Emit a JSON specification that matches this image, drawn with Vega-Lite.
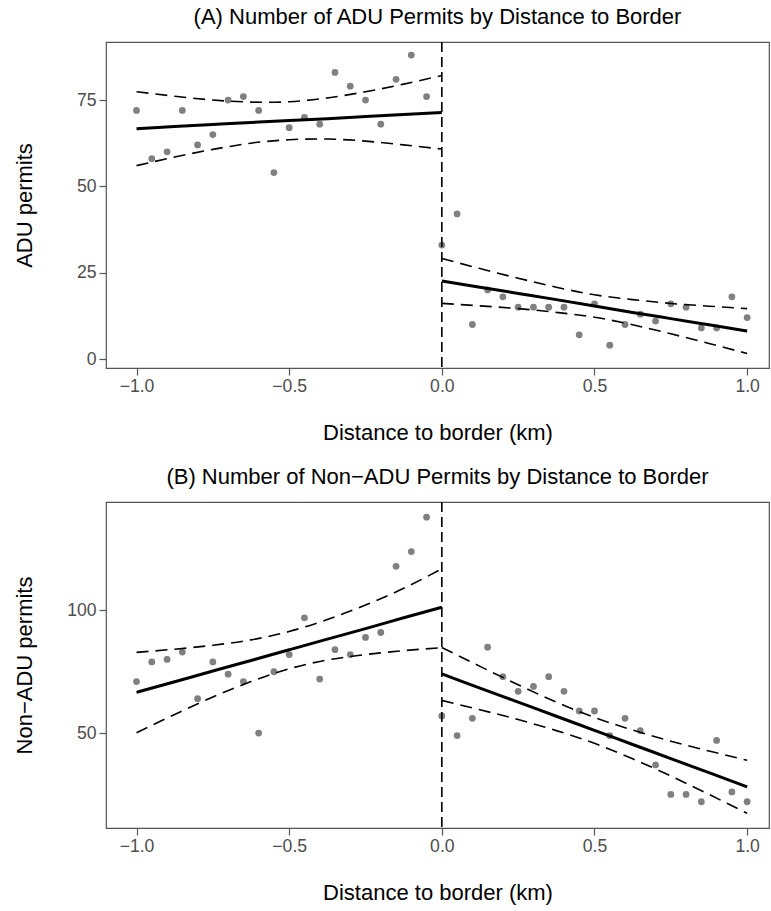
{
  "$schema": "https://vega.github.io/schema/vega-lite/v6.json",
  "padding": {"left": 12, "top": 5, "right": 0, "bottom": 0},
  "spacing": 20,
  "config": {
    "font": "Liberation Sans",
    "view": {"stroke": "#555555", "strokeWidth": 1.2},
    "axis": {"grid": false, "domain": false, "tickColor": "#555555", "tickSize": 7, "tickWidth": 1.2,
      "labelFontSize": 17.6, "labelColor": "#4D4D4D", "labelFont": "Liberation Sans",
      "titleFontSize": 22, "titleFontWeight": "normal", "titleColor": "black", "titleFont": "Liberation Sans"},
    "axisX": {"labelPadding": 2, "titlePadding": 28, "labelFlush": false},
    "axisY": {"labelPadding": 3, "titleX": -75, "titleY": 163, "titleBaseline": "alphabetic", "titleAngle": -90, "titleAlign": "center"},
    "title": {"fontSize": 22, "fontWeight": "normal", "anchor": "middle", "offset": 12, "color": "black", "font": "Liberation Sans"}
  },
  "datasets": {
    "ptsA": [
      {"x": -1.0, "permits": 72}, {"x": -0.95, "permits": 58}, {"x": -0.9, "permits": 60}, {"x": -0.85, "permits": 72},
      {"x": -0.8, "permits": 62}, {"x": -0.75, "permits": 65}, {"x": -0.7, "permits": 75}, {"x": -0.65, "permits": 76},
      {"x": -0.6, "permits": 72}, {"x": -0.55, "permits": 54}, {"x": -0.5, "permits": 67}, {"x": -0.45, "permits": 70},
      {"x": -0.4, "permits": 68}, {"x": -0.35, "permits": 83}, {"x": -0.3, "permits": 79}, {"x": -0.25, "permits": 75},
      {"x": -0.2, "permits": 68}, {"x": -0.15, "permits": 81}, {"x": -0.1, "permits": 88}, {"x": -0.05, "permits": 76},
      {"x": 0.0, "permits": 33}, {"x": 0.05, "permits": 42}, {"x": 0.1, "permits": 10}, {"x": 0.15, "permits": 20},
      {"x": 0.2, "permits": 18}, {"x": 0.25, "permits": 15}, {"x": 0.3, "permits": 15}, {"x": 0.35, "permits": 15},
      {"x": 0.4, "permits": 15}, {"x": 0.45, "permits": 7}, {"x": 0.5, "permits": 16}, {"x": 0.55, "permits": 4},
      {"x": 0.6, "permits": 10}, {"x": 0.65, "permits": 13}, {"x": 0.7, "permits": 11}, {"x": 0.75, "permits": 16},
      {"x": 0.8, "permits": 15}, {"x": 0.85, "permits": 9}, {"x": 0.9, "permits": 9}, {"x": 0.95, "permits": 18},
      {"x": 1.0, "permits": 12}
    ],
    "fitA": [
      {"side": "left", "x": -1.0, "fit": 66.7, "lo": 56.0, "hi": 77.4},
      {"side": "left", "x": -0.875, "fit": 67.3, "lo": 58.5, "hi": 76.1},
      {"side": "left", "x": -0.75, "fit": 67.9, "lo": 60.7, "hi": 75.0},
      {"side": "left", "x": -0.625, "fit": 68.5, "lo": 62.5, "hi": 74.4},
      {"side": "left", "x": -0.5, "fit": 69.05, "lo": 63.5, "hi": 74.5},
      {"side": "left", "x": -0.375, "fit": 69.6, "lo": 63.7, "hi": 75.6},
      {"side": "left", "x": -0.25, "fit": 70.2, "lo": 63.1, "hi": 77.4},
      {"side": "left", "x": -0.125, "fit": 70.8, "lo": 62.0, "hi": 79.6},
      {"side": "left", "x": 0.0, "fit": 71.4, "lo": 60.8, "hi": 82.1},
      {"side": "right", "x": 0.0, "fit": 22.6, "lo": 16.1, "hi": 29.1},
      {"side": "right", "x": 0.125, "fit": 20.8, "lo": 15.4, "hi": 26.2},
      {"side": "right", "x": 0.25, "fit": 19.0, "lo": 14.6, "hi": 23.4},
      {"side": "right", "x": 0.375, "fit": 17.2, "lo": 13.5, "hi": 20.8},
      {"side": "right", "x": 0.5, "fit": 15.35, "lo": 12.1, "hi": 18.6},
      {"side": "right", "x": 0.625, "fit": 13.5, "lo": 9.9, "hi": 17.2},
      {"side": "right", "x": 0.75, "fit": 11.7, "lo": 7.3, "hi": 16.1},
      {"side": "right", "x": 0.875, "fit": 9.9, "lo": 4.5, "hi": 15.3},
      {"side": "right", "x": 1.0, "fit": 8.1, "lo": 1.6, "hi": 14.6}
    ],
    "ptsB": [
      {"x": -1.0, "permits": 71}, {"x": -0.95, "permits": 79}, {"x": -0.9, "permits": 80}, {"x": -0.85, "permits": 83},
      {"x": -0.8, "permits": 64}, {"x": -0.75, "permits": 79}, {"x": -0.7, "permits": 74}, {"x": -0.65, "permits": 71},
      {"x": -0.6, "permits": 50}, {"x": -0.55, "permits": 75}, {"x": -0.5, "permits": 82}, {"x": -0.45, "permits": 97},
      {"x": -0.4, "permits": 72}, {"x": -0.35, "permits": 84}, {"x": -0.3, "permits": 82}, {"x": -0.25, "permits": 89},
      {"x": -0.2, "permits": 91}, {"x": -0.15, "permits": 118}, {"x": -0.1, "permits": 124}, {"x": -0.05, "permits": 138},
      {"x": 0.0, "permits": 57}, {"x": 0.05, "permits": 49}, {"x": 0.1, "permits": 56}, {"x": 0.15, "permits": 85},
      {"x": 0.2, "permits": 73}, {"x": 0.25, "permits": 67}, {"x": 0.3, "permits": 69}, {"x": 0.35, "permits": 73},
      {"x": 0.4, "permits": 67}, {"x": 0.45, "permits": 59}, {"x": 0.5, "permits": 59}, {"x": 0.55, "permits": 49},
      {"x": 0.6, "permits": 56}, {"x": 0.65, "permits": 51}, {"x": 0.7, "permits": 37}, {"x": 0.75, "permits": 25},
      {"x": 0.8, "permits": 25}, {"x": 0.85, "permits": 22}, {"x": 0.9, "permits": 47}, {"x": 0.95, "permits": 26},
      {"x": 1.0, "permits": 22}
    ],
    "fitB": [
      {"side": "left", "x": -1.0, "fit": 66.6, "lo": 50.1, "hi": 82.9},
      {"side": "left", "x": -0.875, "fit": 70.9, "lo": 57.6, "hi": 84.2},
      {"side": "left", "x": -0.75, "fit": 75.3, "lo": 64.7, "hi": 85.8},
      {"side": "left", "x": -0.625, "fit": 79.6, "lo": 71.0, "hi": 88.0},
      {"side": "left", "x": -0.5, "fit": 83.95, "lo": 76.2, "hi": 91.4},
      {"side": "left", "x": -0.375, "fit": 88.3, "lo": 79.8, "hi": 96.3},
      {"side": "left", "x": -0.25, "fit": 92.6, "lo": 82.0, "hi": 102.2},
      {"side": "left", "x": -0.125, "fit": 97.0, "lo": 83.6, "hi": 109.0},
      {"side": "left", "x": 0.0, "fit": 101.3, "lo": 84.8, "hi": 117.0},
      {"side": "right", "x": 0.0, "fit": 74.1, "lo": 63.3, "hi": 84.9},
      {"side": "right", "x": 0.125, "fit": 68.35, "lo": 59.5, "hi": 77.2},
      {"side": "right", "x": 0.25, "fit": 62.6, "lo": 55.5, "hi": 69.7},
      {"side": "right", "x": 0.375, "fit": 56.85, "lo": 51.0, "hi": 62.6},
      {"side": "right", "x": 0.5, "fit": 51.1, "lo": 45.8, "hi": 56.4},
      {"side": "right", "x": 0.625, "fit": 45.35, "lo": 39.5, "hi": 51.2},
      {"side": "right", "x": 0.75, "fit": 39.6, "lo": 32.5, "hi": 46.7},
      {"side": "right", "x": 0.875, "fit": 33.85, "lo": 25.0, "hi": 42.7},
      {"side": "right", "x": 1.0, "fit": 28.1, "lo": 17.3, "hi": 38.9}
    ],
    "border": [{"x": 0}]
  },
  "vconcat": [
    {
      "title": "(A) Number of ADU Permits by Distance to Border",
      "width": 663,
      "height": 326,
      "layer": [
        {
          "data": {"name": "ptsA"},
          "mark": {"type": "point", "filled": true, "size": 46, "color": "#808080", "opacity": 1},
          "encoding": {
            "x": {"field": "x", "type": "quantitative", "title": "Distance to border (km)",
              "scale": {"domain": [-1.1, 1.0716], "nice": false, "zero": false},
              "axis": {"values": [-1, -0.5, 0, 0.5, 1], "format": ".1f"}},
            "y": {"field": "permits", "type": "quantitative", "title": "ADU permits",
              "scale": {"domain": [-2.6, 91.8], "nice": false, "zero": false},
              "axis": {"values": [0, 25, 50, 75]}}
          }
        },
        {
          "data": {"name": "fitA"},
          "mark": {"type": "line", "color": "black", "strokeWidth": 3, "interpolate": "natural"},
          "encoding": {
            "x": {"field": "x", "type": "quantitative", "title": "Distance to border (km)"},
            "y": {"field": "fit", "type": "quantitative", "title": "ADU permits"},
            "detail": {"field": "side"}
          }
        },
        {
          "data": {"name": "fitA"},
          "mark": {"type": "line", "color": "black", "strokeWidth": 1.6, "strokeDash": [12, 7], "interpolate": "natural"},
          "encoding": {
            "x": {"field": "x", "type": "quantitative", "title": "Distance to border (km)"},
            "y": {"field": "lo", "type": "quantitative", "title": "ADU permits"},
            "detail": {"field": "side"}
          }
        },
        {
          "data": {"name": "fitA"},
          "mark": {"type": "line", "color": "black", "strokeWidth": 1.6, "strokeDash": [12, 7], "interpolate": "natural"},
          "encoding": {
            "x": {"field": "x", "type": "quantitative", "title": "Distance to border (km)"},
            "y": {"field": "hi", "type": "quantitative", "title": "ADU permits"},
            "detail": {"field": "side"}
          }
        },
        {
          "data": {"name": "border"},
          "mark": {"type": "rule", "color": "black", "strokeWidth": 1.6, "strokeDash": [10, 5]},
          "encoding": {
            "x": {"field": "x", "type": "quantitative", "title": "Distance to border (km)"}
          }
        }
      ]
    },
    {
      "title": "(B) Number of Non−ADU Permits by Distance to Border",
      "width": 663,
      "height": 326,
      "layer": [
        {
          "data": {"name": "ptsB"},
          "mark": {"type": "point", "filled": true, "size": 46, "color": "#808080", "opacity": 1},
          "encoding": {
            "x": {"field": "x", "type": "quantitative", "title": "Distance to border (km)",
              "scale": {"domain": [-1.1, 1.0716], "nice": false, "zero": false},
              "axis": {"values": [-1, -0.5, 0, 0.5, 1], "format": ".1f"}},
            "y": {"field": "permits", "type": "quantitative", "title": "Non−ADU permits",
              "scale": {"domain": [11.3, 144.2], "nice": false, "zero": false},
              "axis": {"values": [50, 100]}}
          }
        },
        {
          "data": {"name": "fitB"},
          "mark": {"type": "line", "color": "black", "strokeWidth": 3, "interpolate": "natural"},
          "encoding": {
            "x": {"field": "x", "type": "quantitative", "title": "Distance to border (km)"},
            "y": {"field": "fit", "type": "quantitative", "title": "Non−ADU permits"},
            "detail": {"field": "side"}
          }
        },
        {
          "data": {"name": "fitB"},
          "mark": {"type": "line", "color": "black", "strokeWidth": 1.6, "strokeDash": [12, 7], "interpolate": "natural"},
          "encoding": {
            "x": {"field": "x", "type": "quantitative", "title": "Distance to border (km)"},
            "y": {"field": "lo", "type": "quantitative", "title": "Non−ADU permits"},
            "detail": {"field": "side"}
          }
        },
        {
          "data": {"name": "fitB"},
          "mark": {"type": "line", "color": "black", "strokeWidth": 1.6, "strokeDash": [12, 7], "interpolate": "natural"},
          "encoding": {
            "x": {"field": "x", "type": "quantitative", "title": "Distance to border (km)"},
            "y": {"field": "hi", "type": "quantitative", "title": "Non−ADU permits"},
            "detail": {"field": "side"}
          }
        },
        {
          "data": {"name": "border"},
          "mark": {"type": "rule", "color": "black", "strokeWidth": 1.6, "strokeDash": [10, 5]},
          "encoding": {
            "x": {"field": "x", "type": "quantitative", "title": "Distance to border (km)"}
          }
        }
      ]
    }
  ]
}
